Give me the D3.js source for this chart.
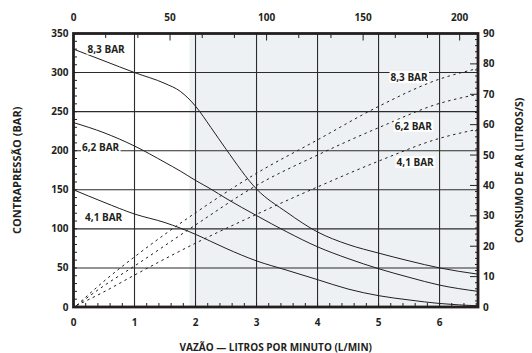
<!DOCTYPE html>
<html>
<head>
<meta charset="utf-8">
<script src="https://cdn.jsdelivr.net/npm/d3@7"></script>
<style>
  body { margin: 0; background: #fff; }
  text { font-family: "Open Sans", sans-serif; font-weight: 700; fill: #231f20; }
</style>
</head>
<body>
<div id="chart"></div>
<script>
// flow (L/min) sample points for the back-pressure curves
let flowX = [0, 0.5, 1, 1.5, 1.75, 2, 2.25, 2.5, 3, 3.5, 4, 4.5, 5, 5.5, 6, 6.63];
let press83 = [330, 315, 300, 286, 276, 257, 230, 202, 151, 121, 96, 80, 69, 59, 50, 42];
let press62 = [236, 223, 206, 185, 174, 162, 151, 139, 117, 96, 77, 62, 49, 38, 28, 20];
let press41 = [150, 134, 119, 108, 101, 93, 84, 75, 59, 47, 35, 23, 14.5, 9, 4.5, 1.5];

// flow sample points for air consumption (dashed)
let airX = [0.05, 0.5, 1, 2, 3, 4, 5, 6, 6.63];
let air83 = [0.5, 8.5, 16.5, 31, 44, 55, 66, 75, 78.5];
let air62 = [0.5, 7, 13.5, 27, 40, 50, 59, 67, 70];
let air41 = [0.5, 5, 10.5, 21, 30.5, 39.5, 48, 55.5, 58.5];

let seriesNames = ["8,3 BAR", "6,2 BAR", "4,1 BAR"];

let bottomTicks = [0, 1, 2, 3, 4, 5, 6];
let topTicks = [0, 50, 100, 150, 200];
let leftTicks = [0, 50, 100, 150, 200, 250, 300, 350];
let rightTicks = [0, 10, 20, 30, 40, 50, 60, 70, 80, 90];

let shadeFrom = 1.9;

let width = 532, height = 353;
let margin = { top: 33.5, right: 54, bottom: 46, left: 73.5 };
let iw = width - margin.left - margin.right;
let ih = height - margin.top - margin.bottom;

let x = d3.scaleLinear().domain([0, 6.63]).range([0, iw]);
let xTop = d3.scaleLinear().domain([0, 209.5]).range([0, iw]);
let y = d3.scaleLinear().domain([0, 350]).range([ih, 0]);
let yR = d3.scaleLinear().domain([0, 90]).range([ih, 0]);

const svg = d3.select("#chart").append("svg")
  .attr("width", width).attr("height", height);
const g = svg.append("g").attr("transform", `translate(${margin.left},${margin.top})`);

// shaded zone
g.append("rect")
  .attr("x", x(shadeFrom)).attr("y", 0)
  .attr("width", x(6.63) - x(shadeFrom)).attr("height", ih)
  .attr("fill", "#eef1f3");

// grid
g.selectAll(".vg").data(bottomTicks.slice(1)).enter().append("line")
  .attr("x1", d => x(d)).attr("x2", d => x(d)).attr("y1", 0).attr("y2", ih)
  .attr("stroke", "#2b2b2b").attr("stroke-width", 1.1);
g.selectAll(".hg").data(leftTicks.slice(1, -1)).enter().append("line")
  .attr("y1", d => y(d)).attr("y2", d => y(d)).attr("x1", 0).attr("x2", iw)
  .attr("stroke", "#2b2b2b").attr("stroke-width", 1.1);

// minor ticks
let tickLine = (sel, tickVals, fn) => sel.selectAll(null).data(tickVals).enter().append("line").each(fn)
  .attr("stroke", "#231f20").attr("stroke-width", 1);

tickLine(g, d3.range(0, 6.61, 0.2), function (d) {
  d3.select(this).attr("x1", x(d)).attr("x2", x(d)).attr("y1", ih).attr("y2", ih - 4);
});
tickLine(g, d3.range(0, 350, 10), function (d) {
  d3.select(this).attr("x1", 0).attr("x2", 3.5).attr("y1", y(d)).attr("y2", y(d));
});
tickLine(g, d3.range(0, 209, 50 / 3), function (d, i) {
  d3.select(this).attr("x1", xTop(d)).attr("x2", xTop(d)).attr("y1", 0).attr("y2", i % 3 === 0 ? 7 : 4.5);
});
tickLine(g, d3.range(0, 90, 2), function (d) {
  d3.select(this).attr("x1", iw).attr("x2", iw - (d % 10 === 0 ? 8 : 3)).attr("y1", yR(d)).attr("y2", yR(d));
});

// curves
let line = d3.line().curve(d3.curveMonotoneX);
[press83, press62, press41].forEach(vals => {
  g.append("path")
    .attr("d", line(flowX.map((f, i) => [x(f), y(vals[i])])))
    .attr("fill", "none").attr("stroke", "#231f20").attr("stroke-width", 1);
});
[air83, air62, air41].forEach(vals => {
  g.append("path")
    .attr("d", line(airX.map((f, i) => [x(f), yR(vals[i])])))
    .attr("fill", "none").attr("stroke", "#231f20").attr("stroke-width", 1)
    .attr("stroke-dasharray", "2.5,3.5");
});

// frame
g.append("rect").attr("width", iw).attr("height", ih)
  .attr("fill", "none").attr("stroke", "#231f20").attr("stroke-width", 2.8);

// labels on curves
let addLabel = function (txt, px, py, anchor) {
  const t = g.append("text").text(txt).attr("x", px).attr("y", py)
    .attr("font-size", 10).attr("dy", "0.35em").attr("text-anchor", anchor);
  const b = t.node().getBBox();
  g.insert("rect", () => t.node())
    .attr("x", b.x - 1).attr("y", b.y + 1).attr("width", b.width + 2).attr("height", b.height - 2)
    .attr("fill", "#fff");
};
let leftLabelPos = [[0.23, 330], [0.14, 204], [0.19, 115]];
let rightLabelPos = [[5.5, 75.5], [5.57, 59.5], [5.6, 47.5]];
seriesNames.forEach((n, i) => {
  addLabel(n, x(leftLabelPos[i][0]), y(leftLabelPos[i][1]), "start");
  addLabel(n, x(rightLabelPos[i][0]), yR(rightLabelPos[i][1]), "middle");
});

// tick labels
g.selectAll(null).data(bottomTicks).enter().append("text")
  .text(d => d).attr("x", d => x(d)).attr("y", ih + 15).attr("dy", "0.35em")
  .attr("text-anchor", "middle").attr("font-size", 10);
g.selectAll(null).data(topTicks).enter().append("text")
  .text(d => d).attr("x", d => xTop(d)).attr("y", -16).attr("dy", "0.35em")
  .attr("text-anchor", "middle").attr("font-size", 10);
g.selectAll(null).data(leftTicks).enter().append("text")
  .text(d => d).attr("x", -5).attr("y", d => y(d)).attr("dy", "0.35em")
  .attr("text-anchor", "end").attr("font-size", 10);
g.selectAll(null).data(rightTicks).enter().append("text")
  .text(d => d).attr("x", iw + 5).attr("y", d => yR(d)).attr("dy", "0.35em")
  .attr("text-anchor", "start").attr("font-size", 10);

// axis titles
svg.append("text").text("VAZÃO — LITROS POR MINUTO (L/MIN)")
  .attr("x", margin.left + iw / 2).attr("y", 347).attr("dy", "0.35em")
  .attr("text-anchor", "middle").attr("font-size", 10);
svg.append("text").text("CONTRAPRESSÃO (BAR)")
  .attr("transform", `translate(17,${margin.top + ih / 2}) rotate(-90)`).attr("dy", "0.35em")
  .attr("text-anchor", "middle").attr("font-size", 11);
svg.append("text").text("CONSUMO DE AR (LITROS/S)")
  .attr("transform", `translate(519,${margin.top + ih / 2}) rotate(-90)`).attr("dy", "0.35em")
  .attr("text-anchor", "middle").attr("font-size", 10.5);
</script>
</body>
</html>
